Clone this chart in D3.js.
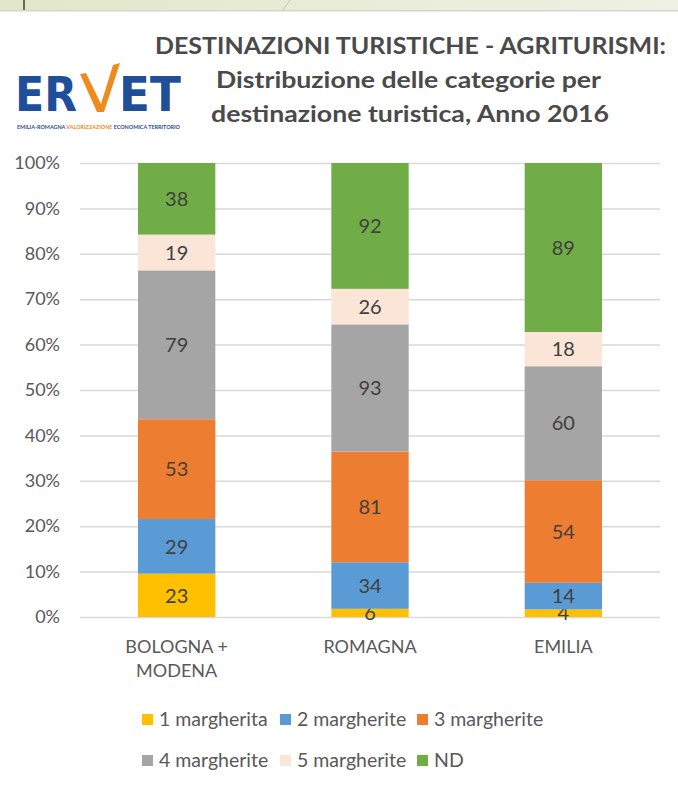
<!DOCTYPE html>
<html lang="it">
<head>
<meta charset="UTF-8">
<title>Destinazioni turistiche - Agriturismi</title>
<script src="https://d3js.org/d3.v7.min.js"></script>
<style>
  body { margin: 0; background: #fff; }
  svg { display: block; font-family: Lato, "Open Sans", sans-serif; }
  .title { fill: #4a4a4a; font-weight: bold; }
  .axis text { fill: #595959; font-size: 18px; }
  .grid line { stroke: #d9d9d9; stroke-width: 1.5px; }
  .barlabel { fill: #404040; font-size: 20px; text-anchor: middle; }
  .catlabel { fill: #595959; font-size: 18px; text-anchor: middle; }
  .legend text { fill: #595959; font-size: 19.5px; }
</style>
</head>
<body>
<script>
// data
const categories = ["BOLOGNA + MODENA", "ROMAGNA", "EMILIA"];
const categoryLines = [["BOLOGNA +", "MODENA"], ["ROMAGNA"], ["EMILIA"]];
const seriesNames = ["1 margherita", "2 margherite", "3 margherite", "4 margherite", "5 margherite", "ND"];
const seriesColors = ["#ffc000", "#5b9bd5", "#ed7d31", "#a5a5a5", "#fbe5d6", "#70ad47"];
const margherita1 = [23, 6, 4];
const margherite2 = [29, 34, 14];
const margherite3 = [53, 81, 54];
const margherite4 = [79, 93, 60];
const margherite5 = [19, 26, 18];
const nd = [38, 92, 89];
const yTicks = [0, 0.1, 0.2, 0.3, 0.4, 0.5, 0.6, 0.7, 0.8, 0.9, 1];

const width = 678, height = 786;
const margins = { top: 163, bottom: 169, left: 80, right: 18 };

const svg = d3.select("body").append("svg")
    .attr("width", width)
    .attr("height", height);

// slide header strip
const defs = svg.append("defs");
const grad = defs.append("linearGradient").attr("id", "strip");
grad.append("stop").attr("offset", "0%").attr("stop-color", "#e1e7cb");
grad.append("stop").attr("offset", "100%").attr("stop-color", "#eef1e3");
svg.append("rect").attr("x", 0).attr("y", 0).attr("width", width).attr("height", 10).attr("fill", "url(#strip)");
svg.append("rect").attr("x", 0).attr("y", 10).attr("width", width).attr("height", 1.5).attr("fill", "#d4d4d4");
svg.append("rect").attr("x", 23).attr("y", 0).attr("width", 2).attr("height", 10).attr("fill", "#6f6a4e");
svg.append("line").attr("x1", 283).attr("y1", 10).attr("x2", 290).attr("y2", 0)
    .attr("stroke", "#bfc4b0").attr("stroke-width", 1);

// title
svg.append("text").attr("class", "title")
    .attr("x", 155).attr("y", 54)
    .attr("font-size", "22px")
    .attr("textLength", 511).attr("lengthAdjust", "spacingAndGlyphs")
    .text("DESTINAZIONI TURISTICHE - AGRITURISMI:");
svg.append("text").attr("class", "title")
    .attr("x", 216).attr("y", 88)
    .attr("font-size", "22px")
    .attr("textLength", 385).attr("lengthAdjust", "spacingAndGlyphs")
    .text("Distribuzione delle categorie per");
svg.append("text").attr("class", "title")
    .attr("x", 211).attr("y", 122)
    .attr("font-size", "22px")
    .attr("textLength", 398).attr("lengthAdjust", "spacingAndGlyphs")
    .text("destinazione turistica, Anno 2016");

// logo
const logo = svg.append("g").attr("class", "logo");
logo.append("text").attr("x", 15).attr("y", 111)
    .attr("font-size", "48px").attr("font-weight", "bold").attr("fill", "#1f4e9b")
    .attr("font-family", "'DejaVu Sans Condensed', 'DejaVu Sans', sans-serif")
    .attr("textLength", 62).attr("lengthAdjust", "spacingAndGlyphs")
    .text("ER");
logo.append("path")
    .attr("d", "M80,74 L86,73 L101,104 L113,65 L120,63 L104,112 L97,112 Z")
    .attr("fill", "#f08a1c");
logo.append("text").attr("x", 119).attr("y", 111)
    .attr("font-size", "48px").attr("font-weight", "bold").attr("fill", "#1f4e9b")
    .attr("font-family", "'DejaVu Sans Condensed', 'DejaVu Sans', sans-serif")
    .attr("textLength", 62).attr("lengthAdjust", "spacingAndGlyphs")
    .text("ET");
const tag = logo.append("text").attr("x", 17).attr("y", 129)
    .attr("font-size", "5px").attr("font-weight", "bold")
    .attr("textLength", 163).attr("lengthAdjust", "spacingAndGlyphs");
tag.append("tspan").attr("fill", "#1f4e9b").text("EMILIA-ROMAGNA ");
tag.append("tspan").attr("fill", "#f08a1c").text("VALORIZZAZIONE ");
tag.append("tspan").attr("fill", "#1f4e9b").text("ECONOMICA TERRITORIO");

// table for the stack
const values = [margherita1, margherite2, margherite3, margherite4, margherite5, nd];
const table = categories.map((c, i) => {
    const row = { category: c };
    seriesNames.forEach((s, j) => { row[s] = values[j][i]; });
    return row;
});
const stacked = d3.stack().keys(seriesNames).offset(d3.stackOffsetExpand)(table);

// scales
const xScale = d3.scaleBand()
    .domain(categories)
    .range([margins.left, width - margins.right])
    .paddingInner(0.6)
    .paddingOuter(0.3);
const yScale = d3.scaleLinear()
    .domain([0, 1])
    .range([height - margins.bottom, margins.top]);
const color = d3.scaleOrdinal().domain(seriesNames).range(seriesColors);

// gridlines
svg.append("g").attr("class", "grid")
    .attr("transform", `translate(${margins.left},0)`)
    .call(d3.axisLeft(yScale).tickValues(yTicks).tickSize(-(width - margins.left - margins.right)).tickFormat(""))
    .call(g => g.select(".domain").remove());

// y axis labels
svg.append("g").attr("class", "axis")
    .attr("transform", `translate(${margins.left},0)`)
    .call(d3.axisLeft(yScale).tickValues(yTicks).tickSize(0).tickPadding(20).tickFormat(d3.format(".0%")))
    .call(g => g.select(".domain").remove())
    .selectAll("text").style("font-family", "Lato, 'Open Sans', sans-serif");

// bars
const layers = svg.append("g").selectAll("g")
    .data(stacked)
    .enter()
    .append("g")
    .attr("fill", d => color(d.key));
layers.selectAll("rect")
    .data(d => d)
    .enter()
    .append("rect")
    .attr("x", d => xScale(d.data.category))
    .attr("width", xScale.bandwidth())
    .attr("y", d => yScale(d[1]))
    .attr("height", d => yScale(d[0]) - yScale(d[1]));

// value labels
layers.selectAll("text")
    .data(d => d.map(p => ({ p: p, key: d.key })))
    .enter()
    .append("text")
    .attr("class", "barlabel")
    .attr("x", d => xScale(d.p.data.category) + xScale.bandwidth() / 2)
    .attr("y", d => (yScale(d.p[0]) + yScale(d.p[1])) / 2)
    .attr("dy", "0.36em")
    .text(d => d.p.data[d.key]);

// category labels
const cats = svg.append("g").selectAll("text")
    .data(categories)
    .enter()
    .append("text")
    .attr("class", "catlabel")
    .attr("x", d => xScale(d) + xScale.bandwidth() / 2)
    .attr("y", height - margins.bottom + 36);
cats.selectAll("tspan")
    .data((d, i) => categoryLines[i])
    .enter()
    .append("tspan")
    .attr("x", function () { return d3.select(this.parentNode).attr("x"); })
    .attr("dy", (d, i) => i === 0 ? 0 : 24)
    .text(d => d);

// legend
const legendCols = [142, 280, 417];
const legendRows = [719, 760];
const legend = svg.append("g").attr("class", "legend")
    .selectAll("g")
    .data(seriesNames)
    .enter()
    .append("g")
    .attr("transform", (d, i) => `translate(${legendCols[i % 3]}, ${legendRows[Math.floor(i / 3)]})`);
legend.append("rect")
    .attr("x", 0).attr("y", -5)
    .attr("width", 11).attr("height", 11)
    .attr("fill", d => color(d));
legend.append("text")
    .attr("x", 17).attr("dy", "0.36em")
    .text(d => d);
</script>
</body>
</html>
